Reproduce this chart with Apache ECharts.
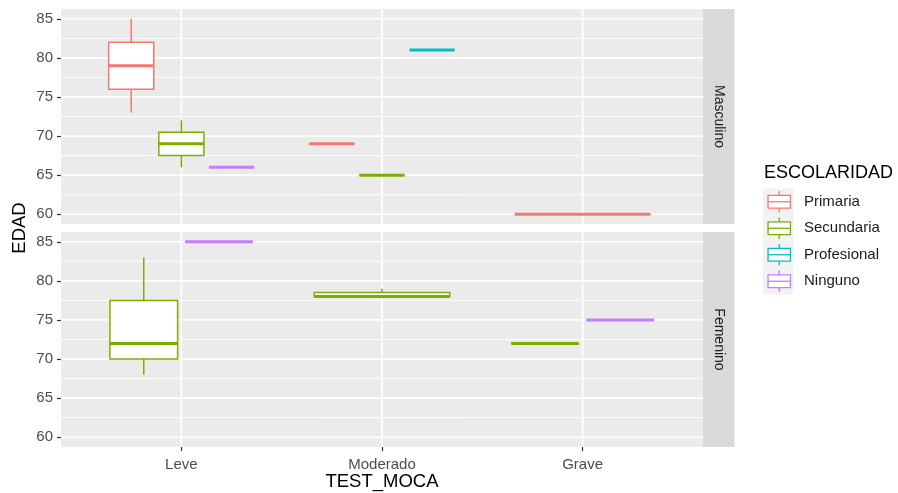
<!DOCTYPE html>
<html>
<head>
<meta charset="utf-8">
<script src="https://cdn.jsdelivr.net/npm/echarts@6/dist/echarts.min.js"></script>
<style>
html, body { margin: 0; padding: 0; background: #ffffff; }
#chart { width: 898px; height: 493px; }
</style>
</head>
<body>
<div id="chart"></div>
<script>
// Categories, groups and facets
const categories = ['Leve', 'Moderado', 'Grave'];
const groups = ['Primaria', 'Secundaria', 'Profesional', 'Ninguno'];
const panels = ['Masculino', 'Femenino'];
const yTicks = [60, 65, 70, 75, 80, 85];
const yMinorTicks = [62.5, 67.5, 72.5, 77.5, 82.5];

// Five-number summaries per facet: [TEST_MOCA, ESCOLARIDAD, min, q1, median, q3, max]
const masculinoStats = [
  ['Leve', 'Primaria', 73, 76, 79, 82, 85],
  ['Leve', 'Secundaria', 66, 67.5, 69, 70.5, 72],
  ['Leve', 'Ninguno', 66, 66, 66, 66, 66],
  ['Moderado', 'Primaria', 69, 69, 69, 69, 69],
  ['Moderado', 'Secundaria', 65, 65, 65, 65, 65],
  ['Moderado', 'Profesional', 81, 81, 81, 81, 81],
  ['Grave', 'Primaria', 60, 60, 60, 60, 60]
];
const femeninoStats = [
  ['Leve', 'Secundaria', 68, 70, 72, 77.5, 83],
  ['Leve', 'Ninguno', 85, 85, 85, 85, 85],
  ['Moderado', 'Secundaria', 78, 78, 78, 78.5, 79],
  ['Grave', 'Secundaria', 72, 72, 72, 72, 72],
  ['Grave', 'Ninguno', 75, 75, 75, 75, 75]
];

const groupColors = ['#F8766D', '#7CAE00', '#00BFC4', '#C77CFF'];
const FONT = 'Liberation Sans, Arial, sans-serif';

// Dodge boxes within each category: total width 0.75, each box shrunk by 10%
function dodge(stats) {
  const out = [];
  categories.forEach((cat, ci) => {
    const rows = stats.filter(r => r[0] === cat)
      .sort((a, b) => groups.indexOf(a[1]) - groups.indexOf(b[1]));
    const n = rows.length;
    const slot = 0.75 / n;
    rows.forEach((r, i) => {
      const center = ci + 1 + (i - (n - 1) / 2) * slot;
      out.push([center, slot * 0.9 / 2, r[2], r[3], r[4], r[5], r[6], groups.indexOf(r[1])]);
    });
  });
  return out;
}

function renderBox(params, api) {
  const x = api.value(0), hw = api.value(1);
  const color = groupColors[api.value(7)];
  const yAt = i => api.coord([x, api.value(i)])[1];
  const mid = api.value(4);
  const cx = api.coord([x, mid])[0];
  const xl = api.coord([x - hw, mid])[0];
  const xr = api.coord([x + hw, mid])[0];
  const yMin = yAt(2), yQ1 = yAt(3), yMed = yAt(4), yQ3 = yAt(5), yMax = yAt(6);
  const seg = (x1, y1, x2, y2, w) => ({
    type: 'line', shape: { x1, y1, x2, y2 },
    style: { stroke: color, lineWidth: w, lineCap: 'butt' }
  });
  return {
    type: 'group',
    children: [
      seg(cx, yQ3, cx, yMax, 1.5),
      seg(cx, yQ1, cx, yMin, 1.5),
      { type: 'rect', shape: { x: xl, y: yQ3, width: xr - xl, height: yQ1 - yQ3 },
        style: { fill: '#ffffff', stroke: color, lineWidth: 1.5 } },
      seg(xl, yMed, xr, yMed, 3)
    ]
  };
}

// Panel grid lines: kind 0 = major horizontal, 1 = minor horizontal, 2 = vertical
const gridLineData = []
  .concat(yTicks.map(v => [v, 0]))
  .concat(yMinorTicks.map(v => [v, 1]))
  .concat(categories.map((c, i) => [i + 1, 2]));

function renderGridLine(params, api) {
  const cs = params.coordSys;
  const v = api.value(0), kind = api.value(1);
  if (kind === 2) {
    const x = api.coord([v, 70])[0];
    return { type: 'line', shape: { x1: x, y1: cs.y, x2: x, y2: cs.y + cs.height },
      style: { stroke: '#ffffff', lineWidth: 1.7 }, silent: true };
  }
  const y = api.coord([1, v])[1];
  return { type: 'line', shape: { x1: cs.x, y1: y, x2: cs.x + cs.width, y2: y },
    style: { stroke: '#ffffff', lineWidth: kind === 0 ? 1.7 : 0.9 }, silent: true };
}

const gridTops = [9, 232];
const gridLeft = 61, gridWidth = 642, gridHeight = 215;

const grids = gridTops.map(t => ({
  left: gridLeft, top: t, width: gridWidth, height: gridHeight,
  show: true, backgroundColor: '#EBEBEB', borderWidth: 0
}));

const xAxes = panels.map((p, i) => ({
  type: 'value', gridIndex: i, min: 0.4, max: 3.6,
  axisLine: { show: false },
  splitLine: { show: false },
  axisTick: { show: i === 1, customValues: [1, 2, 3], length: 4,
    lineStyle: { color: '#333333', width: 1.2 } },
  axisLabel: { show: i === 1, customValues: [1, 2, 3], margin: 10,
    color: '#4D4D4D', fontSize: 15, fontFamily: FONT,
    formatter: v => categories[Math.round(v) - 1] }
}));

const yAxes = panels.map((p, i) => ({
  type: 'value', gridIndex: i, min: 58.75, max: 86.25,
  axisLine: { show: false },
  splitLine: { show: false },
  axisTick: { show: true, customValues: yTicks, length: 4,
    lineStyle: { color: '#333333', width: 1.2 } },
  axisLabel: { customValues: yTicks, margin: 8, color: '#4D4D4D',
    fontSize: 15, fontFamily: FONT }
}));

const series = [];
[masculinoStats, femeninoStats].forEach((stats, i) => {
  series.push({
    type: 'custom', xAxisIndex: i, yAxisIndex: i, z: 1, silent: true,
    renderItem: renderGridLine, data: gridLineData, clip: false
  });
  series.push({
    type: 'custom', name: panels[i], xAxisIndex: i, yAxisIndex: i, z: 2, silent: true,
    renderItem: renderBox, data: dodge(stats), encode: { x: 0, y: 4 }
  });
});

// Facet strips, axis titles and legend
const graphics = [];
panels.forEach((p, i) => {
  graphics.push({
    type: 'rect', silent: true,
    shape: { x: gridLeft + gridWidth, y: gridTops[i], width: 31.5, height: gridHeight },
    style: { fill: '#D9D9D9' }
  });
  graphics.push({
    type: 'text', silent: true,
    x: gridLeft + gridWidth + 15.75, y: gridTops[i] + gridHeight / 2,
    rotation: -Math.PI / 2,
    style: { text: p, fill: '#1A1A1A', font: '14px ' + FONT, align: 'center', verticalAlign: 'middle' }
  });
});
graphics.push({
  type: 'text', silent: true, x: 19.5, y: 228, rotation: Math.PI / 2,
  style: { text: 'EDAD', fill: '#000000', font: '18.5px ' + FONT, align: 'center', verticalAlign: 'middle' }
});
graphics.push({
  type: 'text', silent: true, x: gridLeft + gridWidth / 2, y: 482,
  style: { text: 'TEST_MOCA', fill: '#000000', font: '18.5px ' + FONT, align: 'center', verticalAlign: 'middle' }
});

const legendLeft = 763, legendTop = 188.5, keyH = 26.5, keyW = 30.5;
graphics.push({
  type: 'text', silent: true, x: 764, y: 173,
  style: { text: 'ESCOLARIDAD', fill: '#000000', font: '18px ' + FONT, align: 'left', verticalAlign: 'middle' }
});
graphics.push({
  type: 'rect', silent: true,
  shape: { x: legendLeft, y: legendTop, width: keyW, height: keyH * groups.length },
  style: { fill: '#F2F2F2' }
});
groups.forEach((g, i) => {
  const cy = legendTop + keyH * (i + 0.5);
  const cx = legendLeft + keyW / 2 + 1;
  const c = groupColors[i];
  graphics.push({
    type: 'line', silent: true,
    shape: { x1: cx, y1: cy - 10.7, x2: cx, y2: cy + 10.7 },
    style: { stroke: c, lineWidth: 1.3 }
  });
  graphics.push({
    type: 'rect', silent: true,
    shape: { x: cx - 11.2, y: cy - 6.3, width: 22.4, height: 12.6 },
    style: { fill: '#ffffff', stroke: c, lineWidth: 1.3 }
  });
  graphics.push({
    type: 'line', silent: true,
    shape: { x1: cx - 11.2, y1: cy, x2: cx + 11.2, y2: cy },
    style: { stroke: c, lineWidth: 1.3 }
  });
  graphics.push({
    type: 'text', silent: true, x: 804, y: cy,
    style: { text: g, fill: '#1A1A1A', font: '15px ' + FONT, align: 'left', verticalAlign: 'middle' }
  });
});

const chart = echarts.init(document.getElementById('chart'), null, { renderer: 'canvas' });
chart.setOption({
  animation: false,
  backgroundColor: '#ffffff',
  grid: grids,
  xAxis: xAxes,
  yAxis: yAxes,
  series: series,
  graphic: graphics
});
</script>
</body>
</html>
